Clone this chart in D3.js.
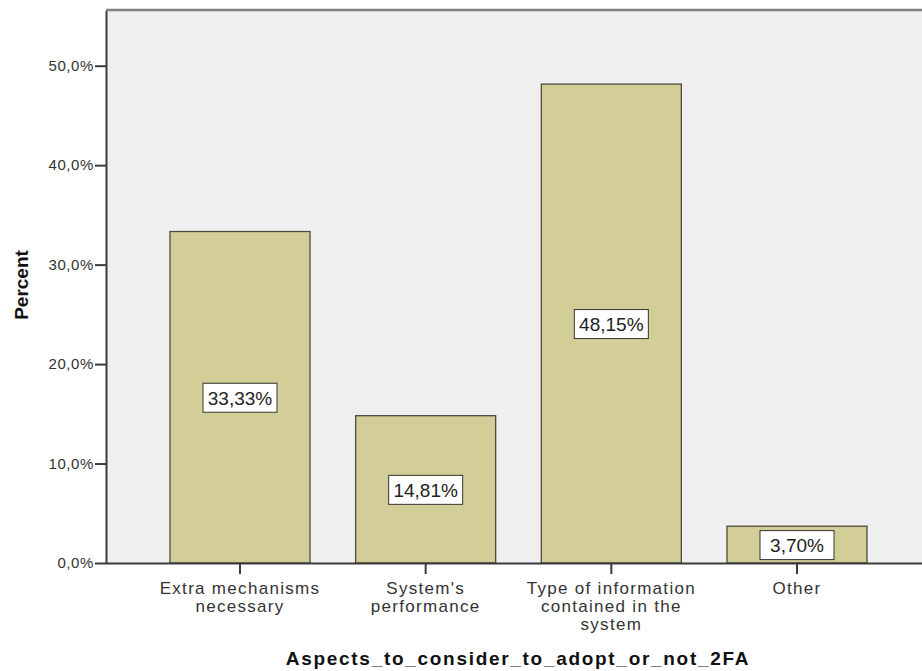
<!DOCTYPE html>
<html>
<head>
<meta charset="utf-8">
<script src="https://cdn.jsdelivr.net/npm/d3@7"></script>
<style>
  html, body { margin: 0; padding: 0; background: #ffffff; }
  svg { display: block; font-family: Arial, "Liberation Sans", sans-serif; }
</style>
</head>
<body>
<svg id="chart" width="922" height="671"></svg>
<script>
// Survey answers: share of respondents per aspect
const categories = [
  ["Extra mechanisms", "necessary"],
  ["System's", "performance"],
  ["Type of information", "contained in the", "system"],
  ["Other"]
];
const values = [33.33, 14.81, 48.15, 3.70];
const tickValues = [0, 10, 20, 30, 40, 50];
const xTitle = "Aspects_to_consider_to_adopt_or_not_2FA";
const yTitle = "Percent";

const svg = d3.select("#chart");
const plot = { left: 106, top: 11, right: 922, bottom: 563 };

const fmtComma = (v, d) => v.toFixed(d).replace(".", ",") + "%";

const y = d3.scaleLinear().domain([0, 55.5]).range([plot.bottom, plot.top]);
const x = d3.scaleBand()
  .domain(d3.range(categories.length))
  .range([170, 867])
  .paddingInner(0.246)
  .paddingOuter(0);

// plot background
svg.append("rect")
  .attr("x", plot.left).attr("y", plot.top)
  .attr("width", plot.right - plot.left).attr("height", plot.bottom - plot.top)
  .attr("fill", "#efefef");

// top frame line
svg.append("line")
  .attr("x1", plot.left).attr("x2", plot.right)
  .attr("y1", plot.top - 1).attr("y2", plot.top - 1)
  .attr("stroke", "#808080").attr("stroke-width", 2.5);

// bars
svg.append("g").selectAll("rect")
  .data(values)
  .join("rect")
  .attr("x", (d, i) => x(i))
  .attr("y", d => y(d))
  .attr("width", x.bandwidth())
  .attr("height", d => y(0) - y(d))
  .attr("fill", "#d3ce98")
  .attr("stroke", "#4b4a3c")
  .attr("stroke-width", 1.3);

// value labels
const labels = svg.append("g").selectAll("g")
  .data(values)
  .join("g")
  .attr("transform", (d, i) => `translate(${x(i) + x.bandwidth() / 2},${y(d / 2)})`);
labels.append("rect")
  .attr("x", -37).attr("y", -14)
  .attr("width", 74).attr("height", 29)
  .attr("fill", "#ffffff")
  .attr("stroke", "#333333").attr("stroke-width", 1);
labels.append("text")
  .attr("text-anchor", "middle")
  .attr("dy", "0.36em")
  .attr("y", 1)
  .attr("font-size", 19)
  .attr("fill", "#222")
  .text(d => fmtComma(d, 2));

// y axis
const yAxis = d3.axisLeft(y)
  .tickValues(tickValues)
  .tickSize(11)
  .tickPadding(1)
  .tickFormat(d => fmtComma(d, 1));
const gy = svg.append("g")
  .attr("transform", `translate(${plot.left},0)`)
  .call(yAxis);
gy.select(".domain").attr("stroke", "#3a3a3a").attr("stroke-width", 2)
  .attr("d", `M0.5,${plot.top}V${plot.bottom}`);
gy.selectAll(".tick line").attr("stroke", "#3a3a3a").attr("stroke-width", 2);
gy.selectAll(".tick text").attr("font-size", 15).attr("fill", "#333")
  .attr("letter-spacing", 0.6)
  .attr("font-family", "Arial, 'Liberation Sans', sans-serif");

// x axis
const xAxis = d3.axisBottom(x).tickSize(11).tickFormat("");
const gx = svg.append("g")
  .attr("transform", `translate(0,${plot.bottom})`)
  .call(xAxis);
gx.select(".domain").attr("stroke", "#3a3a3a").attr("stroke-width", 2)
  .attr("d", `M${plot.left},0.5H${plot.right}`);
gx.selectAll(".tick line").attr("stroke", "#3a3a3a").attr("stroke-width", 2);

// category labels
const catText = svg.append("g").selectAll("text")
  .data(categories)
  .join("text")
  .attr("text-anchor", "middle")
  .attr("font-size", 17)
  .attr("letter-spacing", 1.3)
  .attr("fill", "#333")
  .attr("x", (d, i) => x(i) + x.bandwidth() / 2)
  .attr("y", 594);
catText.selectAll("tspan")
  .data(d => d)
  .join("tspan")
  .attr("x", function () { return d3.select(this.parentNode).attr("x"); })
  .attr("dy", (d, i) => i === 0 ? 0 : 18)
  .text(d => d);

// axis titles
svg.append("text")
  .attr("x", 518)
  .attr("y", 665)
  .attr("text-anchor", "middle")
  .attr("font-size", 19)
  .attr("letter-spacing", 1.7)
  .attr("font-weight", "bold")
  .attr("fill", "#111")
  .text(xTitle);

svg.append("text")
  .attr("transform", `translate(28,285) rotate(-90)`)
  .attr("text-anchor", "middle")
  .attr("font-size", 19)
  .attr("font-weight", "bold")
  .attr("fill", "#111")
  .text(yTitle);
</script>
</body>
</html>
